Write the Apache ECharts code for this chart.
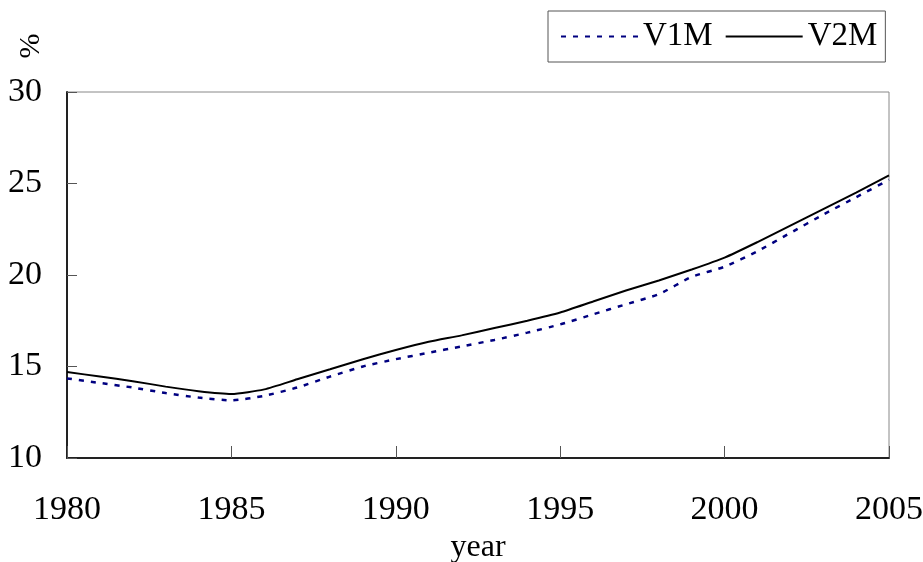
<!DOCTYPE html>
<html>
<head>
<meta charset="utf-8">
<script src="https://cdn.jsdelivr.net/npm/echarts@6/dist/echarts.min.js"></script>
<style>
  html, body { margin: 0; padding: 0; background: #fff; }
  #chart { width: 923px; height: 562px; }
</style>
</head>
<body>
<div id="chart"></div>
<script>
// data
var years = [1980, 1981, 1982, 1983, 1984, 1985, 1986, 1987, 1988, 1989,
  1990, 1991, 1992, 1993, 1994, 1995, 1996, 1997, 1998, 1999,
  2000, 2001, 2002, 2003, 2004, 2005]
var v1m = [14.35, 14.1, 13.85, 13.55, 13.3, 13.15, 13.4, 13.85, 14.45, 15.0,
  15.4, 15.75, 16.1, 16.45, 16.85, 17.3, 17.85, 18.4, 18.95, 19.9,
  20.45, 21.3, 22.3, 23.3, 24.25, 25.2]
var v2m = [14.7, 14.45, 14.2, 13.9, 13.65, 13.5, 13.75, 14.3, 14.85, 15.4,
  15.9, 16.35, 16.7, 17.1, 17.5, 17.95, 18.55, 19.15, 19.7, 20.3,
  20.95, 21.8, 22.7, 23.6, 24.5, 25.45]

var font = 'Liberation Serif'

function pairs(vals) {
  return years.map(function (y, i) { return [y, vals[i]] })
}

var chart = echarts.init(document.getElementById('chart'))
chart.setOption({
  animation: false,
  grid: {
    left: 67, right: 34, top: 92, bottom: 104,
    outerBoundsMode: 'none',
    show: true, borderColor: '#888', borderWidth: 1
  },
  legend: {
    left: 548, top: 11,
    padding: [9, 8, 9, 12],
    itemGap: 12,
    itemWidth: 77,
    itemHeight: 14,
    borderColor: '#555',
    borderWidth: 1,
    itemStyle: { color: 'transparent', borderWidth: 0 },
    textStyle: { fontFamily: font, fontSize: 33, color: '#000' },
    data: ['V1M', 'V2M']
  },
  xAxis: {
    type: 'value',
    min: 1980, max: 2005, interval: 5,
    name: 'year',
    nameLocation: 'middle',
    nameGap: 64,
    nameTextStyle: { fontFamily: font, fontSize: 32, color: '#000' },
    splitLine: { show: false },
    axisLine: { lineStyle: { color: '#222', width: 2 } },
    axisTick: { inside: true, length: 12, lineStyle: { color: '#555' } },
    axisLabel: {
      fontFamily: font, fontSize: 34, color: '#000', margin: 35,
      formatter: function (v) { return String(v) }
    }
  },
  yAxis: {
    type: 'value',
    min: 10, max: 30, interval: 5,
    splitLine: { show: false },
    axisLine: { show: true, lineStyle: { color: '#222', width: 2 } },
    axisTick: { show: true, inside: true, length: 10, lineStyle: { color: '#555' } },
    axisLabel: { fontFamily: font, fontSize: 34, color: '#000', margin: 25 }
  },
  graphic: [{
    type: 'text',
    x: 31, y: 46,
    rotation: Math.PI / 2,
    style: {
      text: '%', fontFamily: font, fontSize: 30, fill: '#000',
      align: 'center', verticalAlign: 'middle'
    }
  }],
  series: [
    {
      name: 'V1M',
      type: 'line',
      data: pairs(v1m),
      symbol: 'none',
      smooth: 0.2,
      color: '#000080',
      lineStyle: { color: '#000080', width: 2.5, type: [5, 7] }
    },
    {
      name: 'V2M',
      type: 'line',
      data: pairs(v2m),
      symbol: 'none',
      smooth: 0.2,
      color: '#000',
      lineStyle: { color: '#000', width: 2 }
    }
  ]
})
</script>
</body>
</html>
